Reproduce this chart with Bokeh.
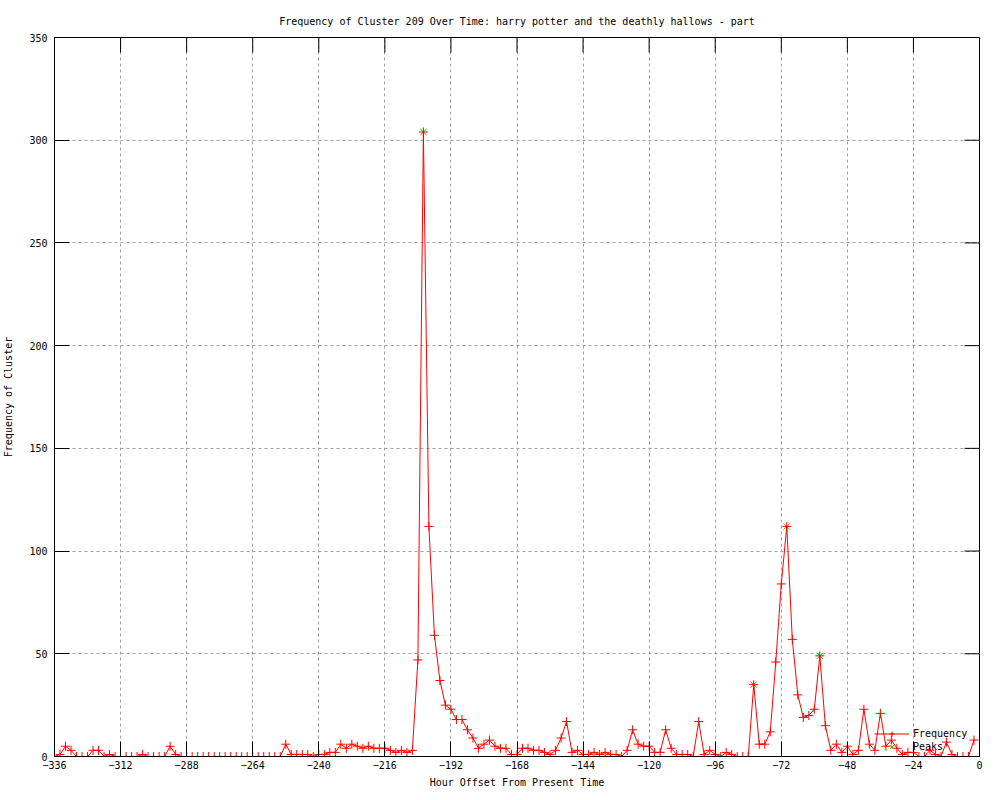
import math
from bokeh.plotting import figure
from bokeh.models import Range1d, FixedTicker, Legend, LegendItem
from bokeh.embed import file_html
from bokeh.resources import INLINE

# ---- data ----
hours = list(range(-336, 0, 2))
frequency = [
    0, 1, 5, 3, 0, 0, 0, 3, 3, 0, 1, 0, 0, 0, 0, 0, 1, 0, 0, 0,
    0, 5, 1, 0, 0, 0, 0, 0, 0, 0, 0, 0, 0, 0, 0, 0, 0, 0, 0, 0,
    0, 0, 6, 1, 1, 1, 1, 0, 1, 1, 2, 2, 6, 4, 6, 5, 4, 5, 4, 4,
    4, 3, 2, 3, 2, 3, 47, 304, 112, 59, 37, 25, 23, 18, 18, 13, 9, 4, 6, 8,
    5, 4, 4, 1, 1, 4, 4, 3, 3, 2, 1, 3, 9, 17, 2, 3, 1, 1, 2, 1,
    2, 1, 1, 0, 3, 13, 6, 5, 5, 2, 2, 13, 4, 1, 1, 1, 0, 17, 1, 3,
    1, 0, 2, 1, 0, 0, 0, 35, 6, 6, 12, 46, 84, 112, 57, 30, 19, 20, 23, 49,
    15, 3, 6, 2, 5, 1, 3, 23, 6, 3, 21, 5, 8, 4, 1, 2, 2, 0, 0, 3,
    1, 0, 7, 1, 0, 0, 0, 8,
]
peak_hours = [-202, -82, -70, -58]
peak_values = [304, 35, 112, 49]
x_ticks = [-336, -312, -288, -264, -240, -216, -192, -168, -144, -120, -96, -72, -48, -24, 0]
y_ticks = [0, 50, 100, 150, 200, 250, 300, 350]
x_min, x_max = -336, 0
y_min, y_max = 0, 350

FONT = "DejaVu Sans Mono"
FS = "10px"

p = figure(
    frame_width=925, frame_height=719,
    x_range=Range1d(x_min, x_max), y_range=Range1d(y_min, y_max),
    output_backend="svg", toolbar_location=None,
    title="Frequency of Cluster 209 Over Time: harry potter and the deathly hallows - part",
    min_border_left=47, min_border_right=12, min_border_top=37, min_border_bottom=28,
    background_fill_color="white", border_fill_color="white",
)
p.title.align = "center"
p.title.text_font = FONT
p.title.text_font_size = FS
p.title.text_font_style = "normal"
p.title.text_color = "black"
p.title.standoff = 22

p.outline_line_color = "black"
p.outline_line_width = 1

for ax, ticks in ((p.xaxis[0], x_ticks), (p.yaxis[0], y_ticks)):
    ax.ticker = FixedTicker(ticks=ticks)
    ax.major_tick_in = 15
    ax.major_tick_out = 0
    ax.minor_tick_in = 0
    ax.minor_tick_out = 0
    ax.major_tick_line_color = "black"
    ax.axis_line_color = "black"
    ax.major_label_text_font = FONT
    ax.major_label_text_font_size = FS
    ax.major_label_text_color = "black"
    ax.axis_label_text_font = FONT
    ax.axis_label_text_font_size = FS
    ax.axis_label_text_font_style = "normal"
    ax.axis_label_text_color = "black"

p.xaxis.axis_label = "Hour Offset From Present Time"
p.yaxis.axis_label = "Frequency of Cluster"
p.xaxis.major_label_standoff = 4
p.yaxis.major_label_standoff = 7
p.xaxis.axis_label_standoff = 5
p.yaxis.axis_label_standoff = 12

p.xgrid.ticker = FixedTicker(ticks=x_ticks)
p.ygrid.ticker = FixedTicker(ticks=y_ticks)
p.grid.grid_line_color = "#a0a0a0"
p.grid.grid_line_dash = "3 3"
p.grid.grid_line_width = 1

# mirrored ticks on the top and right borders
p.ray(x=x_ticks, y=[y_max] * len(x_ticks), length=15, length_units="screen",
      angle=-math.pi / 2, line_color="black", line_width=1)
p.ray(x=[x_max] * len(y_ticks), y=y_ticks, length=15, length_units="screen",
      angle=math.pi, line_color="black", line_width=1)

peak_r = p.scatter(peak_hours, peak_values, marker="x", size=9, line_color="#00c000", line_width=1)
line_r = p.line(hours, frequency, line_color="red", line_width=1)
cross_r = p.scatter(hours, frequency, marker="cross", size=9, line_color="red", line_width=1)

legend = Legend(
    items=[LegendItem(label="Frequency", renderers=[line_r, cross_r]),
           LegendItem(label="Peaks", renderers=[peak_r])],
    location=(818, 1),
    label_text_font=FONT, label_text_font_size=FS, label_text_color="black",
    background_fill_alpha=0, border_line_alpha=0,
    glyph_width=35, glyph_height=13, label_height=13, spacing=0, padding=2, margin=0,
    label_standoff=4,
)
p.add_layout(legend)

open("out.html", "w").write(file_html(p, INLINE))
